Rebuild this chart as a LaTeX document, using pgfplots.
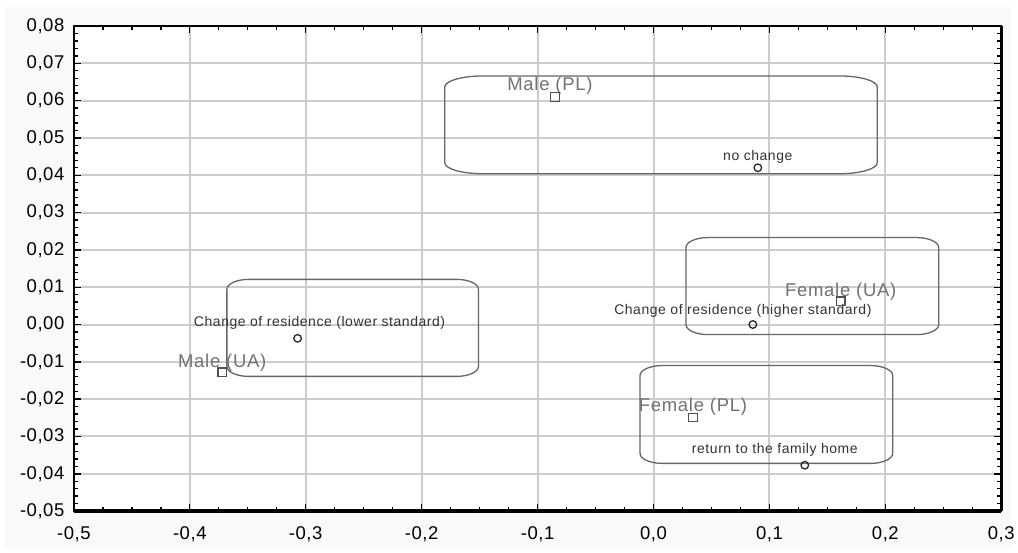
\documentclass[border=0pt]{standalone}
\usepackage{fontspec}
\setmainfont{Liberation Sans}
\newfontfamily\lsA[LetterSpace=4]{Liberation Sans}
\newfontfamily\lsT[LetterSpace=3]{Liberation Sans}
\usepackage{pgfplots}
\pgfplotsset{compat=1.18}
\definecolor{bgout}{HTML}{F9F9F9}
\definecolor{gridc}{HTML}{CCCCCC}
\definecolor{boxc}{HTML}{666666}
\definecolor{sqc}{HTML}{505050}
\definecolor{sqlab}{HTML}{727272}
\definecolor{cilab}{HTML}{333333}
\newcommand{\rbox}[6]{%
\draw[boxc, line width=1.3pt] ([xshift=#5pt]axis cs:#1,#2) -- ([xshift=-#5pt]axis cs:#3,#2)
 arc[start angle=270,end angle=360,x radius=#5pt,y radius=#6pt]
 -- ([yshift=-#6pt]axis cs:#3,#4)
 arc[start angle=0,end angle=90,x radius=#5pt,y radius=#6pt]
 -- ([xshift=#5pt]axis cs:#1,#4)
 arc[start angle=90,end angle=180,x radius=#5pt,y radius=#6pt]
 -- ([yshift=#6pt]axis cs:#1,#2)
 arc[start angle=180,end angle=270,x radius=#5pt,y radius=#6pt] -- cycle;}
\begin{document}
\begin{tikzpicture}
\fill[white] (-74pt,-41pt) rectangle (944pt,512pt);
\fill[bgout] (-69pt,-36pt) rectangle (939pt,505pt);
\begin{axis}[
  at={(0pt,0pt)}, anchor=south west,
  scale only axis, width=929pt, height=486pt,
  xmin=-0.5, xmax=0.3, ymin=-0.05, ymax=0.08,
  xtick distance=0.1, ytick distance=0.01,
  minor x tick num=3, minor y tick num=4,
  scaled y ticks=false, scaled x ticks=false,
  axis background/.style={fill=white},
  grid=major,
  major grid style={gridc, line width=2pt},
  minor grid style={draw=none},
  tick align=inside,
  xtick pos=both, ytick pos=both,
  major tick length=7pt, minor tick length=4pt,
  tick style={black, line width=1.4pt},
  axis line style={black, line width=2pt},
  clip=false,
  /pgf/number format/assume math mode=true,
  tick label style={font=\lsT\fontsize{18.5}{20}\selectfont, black},
  xticklabel style={yshift=-12pt, /pgf/number format/fixed, /pgf/number format/fixed zerofill, /pgf/number format/precision=1, /pgf/number format/use comma},
  yticklabel style={xshift=-6pt, /pgf/number format/fixed, /pgf/number format/fixed zerofill, /pgf/number format/precision=2, /pgf/number format/use comma},
]
\rbox{-0.180}{0.0404}{0.193}{0.0666}{38}{11}
\rbox{-0.368}{-0.0139}{-0.151}{0.0121}{22}{10}
\rbox{0.028}{-0.0027}{0.246}{0.0233}{22}{10}
\rbox{-0.0116}{-0.0372}{0.2063}{-0.011}{22}{10}

\addplot[only marks, mark=square, mark size=4.3pt,
  mark options={draw=sqc, fill=white, line width=1.3pt}]
  coordinates {(-0.085,0.061) (0.1615,0.0062) (-0.372,-0.0128) (0.034,-0.0249)};
\addplot[only marks, mark=o, mark size=3.8pt,
  mark options={draw=black!85, fill=white, line width=1.3pt}]
  coordinates {(0.090,0.042) (0.0857,0.0) (-0.307,-0.0037) (0.1305,-0.0377)};

\begin{scope}[every node/.style={anchor=base, inner sep=0pt}]
\node[sqlab, font=\lsA\fontsize{18.5}{20}\selectfont, xshift=-5pt, yshift=6pt] at (axis cs:-0.085,0.061) {Male (PL)};
\node[sqlab, font=\lsA\fontsize{18.5}{20}\selectfont, yshift=5pt] at (axis cs:0.1615,0.0062) {Female (UA)};
\node[sqlab, font=\lsA\fontsize{18.5}{20}\selectfont, yshift=5pt] at (axis cs:-0.372,-0.0128) {Male (UA)};
\node[sqlab, font=\lsA\fontsize{18.5}{20}\selectfont, yshift=6pt] at (axis cs:0.034,-0.0249) {Female (PL)};
\node[cilab, font=\lsA\fontsize{14}{16}\selectfont, yshift=7pt] at (axis cs:0.090,0.042) {no change};
\node[cilab, font=\lsA\fontsize{14}{16}\selectfont, xshift=-10pt, yshift=10pt] at (axis cs:0.0857,0.0) {Change of residence (higher standard)};
\node[cilab, font=\lsA\fontsize{14}{16}\selectfont, xshift=22pt, yshift=12pt] at (axis cs:-0.307,-0.0037) {Change of residence (lower standard)};
\node[cilab, font=\lsA\fontsize{14}{16}\selectfont, xshift=-30pt, yshift=12pt] at (axis cs:0.1305,-0.0377) {return to the family home};
\end{scope}
\draw[black, line width=4pt] (rel axis cs:0,0) -- (rel axis cs:1,0);
\draw[black, line width=3pt] (rel axis cs:1,0) -- (rel axis cs:1,1);
\end{axis}
\end{tikzpicture}
\end{document}
